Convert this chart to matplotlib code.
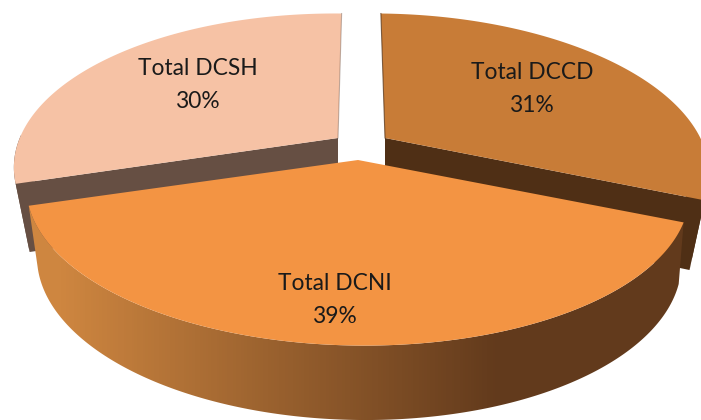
import numpy as np
from matplotlib import pyplot as plt
from matplotlib.colors import LinearSegmentedColormap
from matplotlib.patches import Polygon

labels = ["Total DCCD", "Total DCNI", "Total DCSH"]
percents = [31, 39, 30]
top_colors = ["#C87C37", "#F39443", "#F6C2A5"]
wall_colors = ["#4F2F15", None, "#664F43"]

# apex of each exploded slice, in pixels
apex_x = [385, 358, 338]
apex_y = [138, 160, 138]
label_xy = [(532, 89), (335, 300), (198, 85)]
# back slices are a little smaller and deeper than the front one
rx_scale = [0.975, 1.0, 0.975]
extra_depth = [8, 0, 7]

mid_x = 360
depth = 60
shear = 0.01
# rx, ry, perspective, lean for the upper and lower face of the pie
top_face = (325, 149, 0.197, 1.0)
bot_face = (312, 150, 0.25, 0.4)


def project(theta, i, bottom=False):
    rx, ry, k, lean = bot_face if bottom else top_face
    cx, cy = apex_x[i], apex_y[i]
    u = np.sin(theta)
    v = -np.cos(theta)
    w = 1 - k * v
    if bottom:
        x = mid_x + (cx - mid_x) * lean + rx * u / w
        y = cy + depth + extra_depth[i] + ry * v / w + shear * rx * u / w
    else:
        rx = rx * rx_scale[i]
        x = mid_x + (cx - mid_x + rx * u) / w
        y = cy + ry * v / w + shear * rx * u / w
    return x, y


def apex(i, bottom=False):
    return np.array([[apex_x[i], apex_y[i] + (depth + extra_depth[i] if bottom else 0)]])


def rim(t0, t1, i, bottom=False):
    t = np.linspace(t0, t1, 240)
    return np.column_stack(project(t, i, bottom))


fig = plt.figure(figsize=(7.01, 4.20), dpi=100)
ax = fig.add_axes([0, 0, 1, 1])

fractions = np.array(percents) / sum(percents)
edges = np.concatenate([[0], np.cumsum(fractions)]) * 2 * np.pi

# back slices first, the front slice sits over them
for i in [2, 0]:
    t0, t1 = edges[i], edges[i + 1]
    # only the part of the outer wall facing the viewer
    w0, w1 = (np.pi / 2, t1) if i == 0 else (t0, 1.5 * np.pi)
    outer = np.vstack([rim(w0, w1, i), rim(w1, w0, i, True)])
    ax.add_patch(Polygon(outer, fc=wall_colors[i], ec="none"))
    # the radial wall facing the viewer
    t_side = t1 if i == 0 else t0
    side = np.vstack([
        apex(i),
        rim(t_side, t_side, i)[:1],
        rim(t_side, t_side, i, True)[:1],
        apex(i, True),
    ])
    ax.add_patch(Polygon(side, fc=wall_colors[i], ec="none"))
    # thin visible edge along the gap
    gap = np.vstack([apex(i), rim(0, 0, i)[:1]])
    ax.plot(gap[:, 0], gap[:, 1], color=wall_colors[i], lw=0.8, alpha=0.7 if i == 0 else 0.4)
    top = np.vstack([apex(i), rim(t0, t1, i)])
    ax.add_patch(Polygon(top, fc=top_colors[i], ec="none", zorder=1.5))

# front slice, outer wall has a left to right gradient
t0, t1 = edges[1], edges[2]
wall = Polygon(np.vstack([rim(t0, t1, 1), rim(t1, t0, 1, True)]), fc="none", ec="none")
ax.add_patch(wall)
shade = LinearSegmentedColormap.from_list(
    "wall", [(0, "#CE8640"), (60 / 701, "#CE8640"), (500 / 701, "#623A1C"), (1, "#623A1C")]
)
img = ax.imshow(np.linspace(0, 1, 701).reshape(1, -1), cmap=shade, aspect="auto",
                extent=(0, 701, 420, 0), zorder=2)
img.set_clip_path(wall)
top = Polygon(np.vstack([apex(1), rim(t0, t1, 1)]), fc=top_colors[1], ec="none", zorder=3)
ax.add_patch(top)

for i in range(3):
    ax.text(label_xy[i][0], label_xy[i][1], f"{labels[i]}\n{percents[i]}%",
            ha="center", va="center", fontsize=16.4, family="Lato",
            color="#1A1A1A", linespacing=1.75, zorder=4)

ax.set_xlim(0, 701)
ax.set_ylim(420, 0)
ax.axis("off")

fig.savefig("out.png", dpi=100)
